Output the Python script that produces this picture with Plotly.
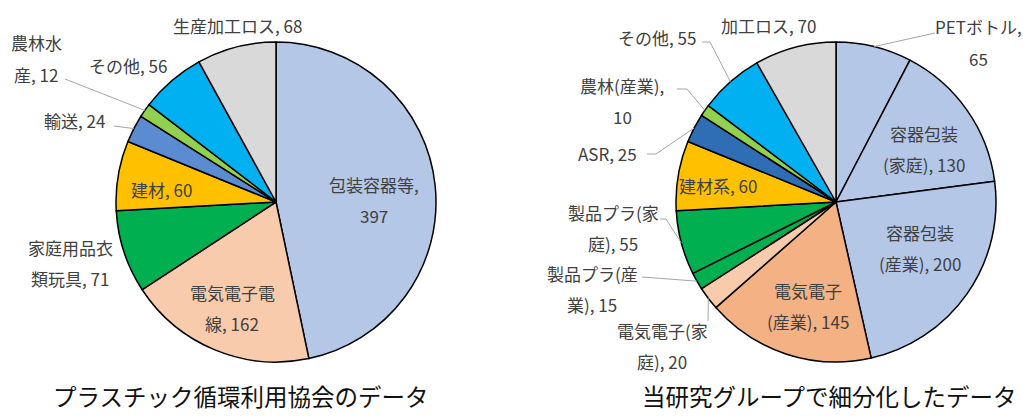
import math
import plotly.graph_objects as go

W, H = 1023, 416

# ---------------- data ----------------
left_names = ["包装容器等", "電気電子電線", "家庭用品衣類玩具", "建材", "輸送", "農林水産", "その他", "生産加工ロス"]
left_values = [397, 162, 71, 60, 24, 12, 56, 68]
left_colors = ["#B4C7E7", "#F8CBAD", "#00B050", "#FFC000", "#5B8BD0", "#92D050", "#00B0F0", "#D9D9D9"]

right_names = ["PETボトル", "容器包装(家庭)", "容器包装(産業)", "電気電子(産業)", "電気電子(家庭)",
               "製品プラ(産業)", "製品プラ(家庭)", "建材系", "ASR", "農林(産業)", "その他", "加工ロス"]
right_values = [65, 130, 200, 145, 20, 15, 55, 60, 25, 10, 55, 70]
right_colors = ["#B4C7E7", "#B4C7E7", "#B4C7E7", "#F4B183", "#F8CBAD", "#00B050", "#00B050",
                "#FFC000", "#2F6EB5", "#92D050", "#00B0F0", "#D9D9D9"]

titles = ["プラスチック循環利用協会のデータ", "当研究グループで細分化したデータ"]

# ---------------- layout (pixels) ----------------
# pie geometry: center x, center y, radius
left_geom = (276, 202, 160)
right_geom = (836, 202, 160)

# label layout: (wrap index or None, center x px, first-line center y px, leader start points or None)
left_layout = [
    (6, 374, 184, None),
    (5, 232, 292, None),
    (5, 70, 247, None),
    (None, 161, 190, None),
    (None, 74, 121, [(114, 126)]),
    (3, 36, 43, [(65, 79)]),
    (None, 128, 65, None),
    (None, 237, 25, None),
]
right_layout = [
    (7, 978, 27, [(935, 33)]),
    (4, 924, 133, None),
    (4, 920, 232, None),
    (4, 808, 290, None),
    (6, 662, 330, [(708, 321)]),
    (6, 592, 273, [(642, 277)]),
    (6, 613, 212, [(660, 219), (666, 219)]),
    (None, 718, 185, None),
    (None, 607, 153, [(647, 154), (656, 154)]),
    (7, 622, 85, [(677, 89), (687, 89)]),
    (None, 657, 37, [(702, 42), (710, 42)]),
    (None, 768, 25, None),
]

LINE_GAP = 31.5
FONT = "Noto Sans CJK JP, Noto Sans, sans-serif"
LABEL_COLOR = "#404040"


def px(x):
    return x / W


def py(y):
    return 1 - y / H


def domain(geom):
    cx, cy, r = geom
    return dict(x=[px(cx - r), px(cx + r)], y=[py(cy + r), py(cy - r)])


fig = go.Figure()
for names, values, colors, geom in [
    (left_names, left_values, left_colors, left_geom),
    (right_names, right_values, right_colors, right_geom),
]:
    fig.add_trace(go.Pie(
        labels=names, values=values, sort=False, direction="clockwise", rotation=0,
        marker=dict(colors=colors, line=dict(color="#000000", width=1.5)),
        textinfo="none", hoverinfo="label+value", domain=domain(geom), showlegend=False,
    ))

annotations = []
shapes = []


def add_labels(names, values, layout, geom):
    cx, cy, r = geom
    total = sum(values)
    cum = 0
    for name, val, (wrap, lx, ly, leader) in zip(names, values, layout):
        mid = (cum + val / 2) / total * 2 * math.pi
        cum += val
        text = f"{name}, {val}"
        if wrap is None:
            lines = [text]
        else:
            lines = [text[:wrap].strip(), text[wrap:].strip()]
        for i, ln in enumerate(lines):
            annotations.append(dict(
                x=px(lx), y=py(ly + i * LINE_GAP), xref="paper", yref="paper",
                text=ln, showarrow=False, xanchor="center", yanchor="middle",
                font=dict(family=FONT, size=17, color=LABEL_COLOR),
            ))
        if leader:
            ex = cx + r * math.sin(mid)
            ey = cy - r * math.cos(mid)
            pts = leader + [(ex, ey)]
            path = "M " + " L ".join(f"{px(a)},{py(b)}" for a, b in pts)
            shapes.append(dict(type="path", path=path, xref="paper", yref="paper",
                               line=dict(color="#A6A6A6", width=1)))


add_labels(left_names, left_values, left_layout, left_geom)
add_labels(right_names, right_values, right_layout, right_geom)

for t, x in zip(titles, [241, 829]):
    annotations.append(dict(
        x=px(x), y=py(396), xref="paper", yref="paper", text=t, showarrow=False,
        xanchor="center", yanchor="middle",
        font=dict(family=FONT, size=23.5, color="#111111"),
    ))

fig.update_layout(
    width=W, height=H, margin=dict(l=0, r=0, t=0, b=0),
    paper_bgcolor="white", plot_bgcolor="white",
    annotations=annotations, shapes=shapes,
)

fig.write_html(
    "out.html",
    config={"displayModeBar": False},
    post_script="document.body.style.margin='0';document.body.style.overflow='hidden';",
)
